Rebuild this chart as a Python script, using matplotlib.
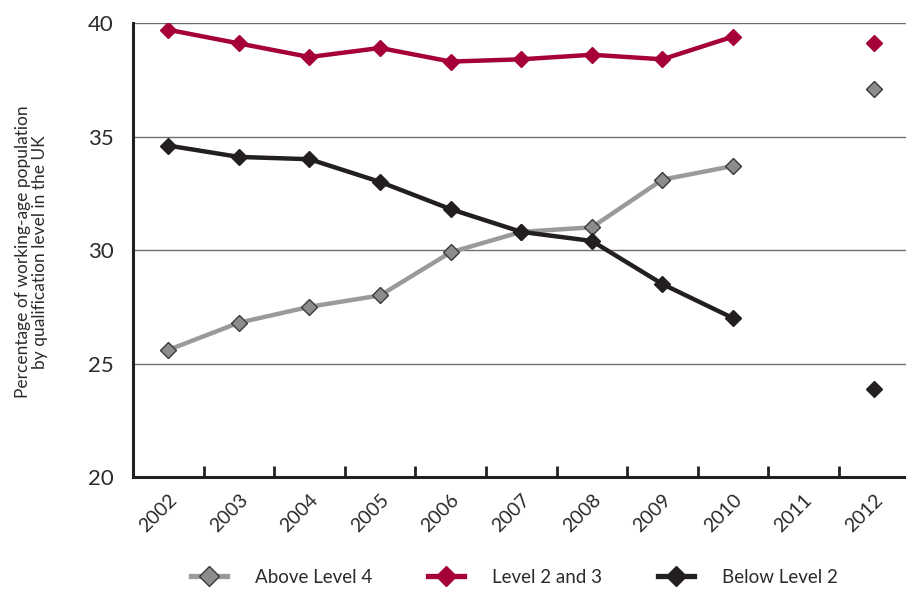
import numpy as np
import matplotlib.pyplot as plt
from matplotlib.lines import Line2D

plt.rcParams['font.family'] = ['Lato', 'DejaVu Sans']

# survey years and shares of working-age population (%)
years = ['2002', '2003', '2004', '2005', '2006', '2007', '2008', '2009', '2010', '2011', '2012']
above_level4 = [25.6, 26.8, 27.5, 28.0, 29.9, 30.8, 31.0, 33.1, 33.7, None, 37.1]
level2_and_3 = [39.7, 39.1, 38.5, 38.9, 38.3, 38.4, 38.6, 38.4, 39.4, None, 39.1]
below_level2 = [34.6, 34.1, 34.0, 33.0, 31.8, 30.8, 30.4, 28.5, 27.0, None, 23.9]

series = [
    ('Above Level 4', above_level4, '#9a9a9a', '#8c8c8e', '#3a3a3a'),
    ('Level 2 and 3', level2_and_3, '#a6003a', '#a6003a', '#a6003a'),
    ('Below Level 2', below_level2, '#231f20', '#231f20', '#231f20'),
]
text_col = '#2b2b2b'

fig = plt.figure(figsize=(9.06, 5.89), dpi=100)
ax = fig.add_axes([0.1468, 0.190, 0.8532, 0.771])

x = np.arange(len(years))
handles = []
for name, vals, lc, fc, ec in series:
    y = np.array([np.nan if v is None else v for v in vals], dtype=float)
    # the 2002-2010 run is joined, 2012 stands on its own
    ax.plot(x[:9], y[:9], color=lc, lw=3.2, zorder=3, solid_capstyle='butt')
    ax.plot(x, y, ls='none', marker='D', ms=8.5, mfc=fc, mec=ec, mew=1.0, zorder=4)
    handles.append(Line2D([], [], color=lc, lw=3.8, marker='D', ms=10,
                          mfc=fc, mec=ec, mew=1.0))

ax.set_ylim(20, 40)
ax.set_xlim(-0.5, 10.45)
ax.set_yticks([20, 25, 30, 35, 40])
ax.yaxis.grid(True, color='#6e6e6e', lw=1.0)
ax.set_axisbelow(True)

ax.set_xticks(x)
ax.set_xticklabels(years, rotation=45, ha='right', va='top', rotation_mode='anchor',
                   fontsize=14, color=text_col)
ax.set_xticks(x[:-1] + 0.5, minor=True)
ax.tick_params(axis='x', which='major', length=0, pad=10)
ax.tick_params(axis='x', which='minor', direction='in', length=8, width=2, color='#231f20')
ax.tick_params(axis='y', length=0, pad=14, labelsize=16, labelcolor=text_col)

for side in ('top', 'right'):
    ax.spines[side].set_visible(False)
for side in ('left', 'bottom'):
    ax.spines[side].set_linewidth(2.2)
    ax.spines[side].set_color('#231f20')

fig.text(0.035, 0.572, 'Percentage of working-age population\nby qualification level in the UK',
         rotation=90, ha='center', va='center', fontsize=12.5, color=text_col, linespacing=1.1)

fig.legend(handles, [s[0] for s in series], loc='center', bbox_to_anchor=(0.568, 0.02),
           ncol=3, frameon=False, fontsize=13.5, handlelength=1.9, handletextpad=1.5,
           columnspacing=3.0, labelcolor=text_col)

fig.savefig('out.png', dpi=100)
